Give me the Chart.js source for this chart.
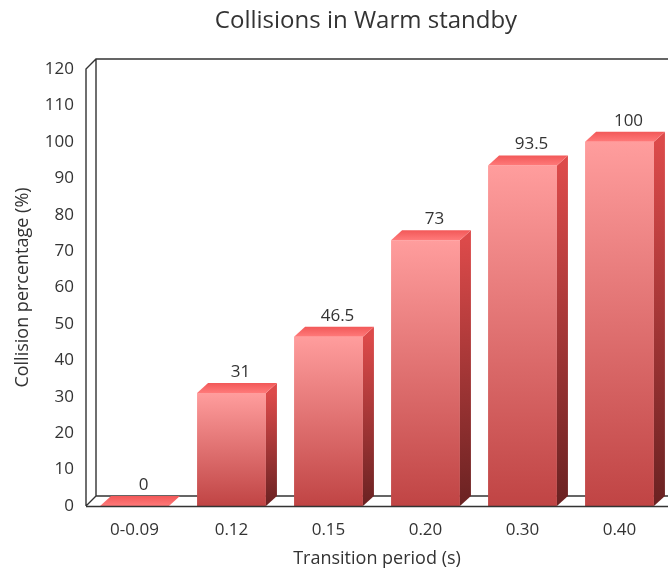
<!DOCTYPE html>
<html>
<head>
<meta charset="utf-8">
<title>Collisions in Warm standby</title>
<script src="https://cdn.jsdelivr.net/npm/chart.js@4/dist/chart.umd.min.js"></script>
<style>
  html, body { margin: 0; padding: 0; background: #fff; }
  #wrap { width: 668px; height: 568px; }
</style>
</head>
<body>
<div id="wrap"><canvas id="chart" width="668" height="568"></canvas></div>
<script>
// chart data
var categories = ['0-0.09', '0.12', '0.15', '0.20', '0.30', '0.40'];
var collisionPct = [0, 31, 46.5, 73, 93.5, 100];
var yTicks = { min: 0, max: 120, step: 10 };

var titleText = 'Collisions in Warm standby';
var xTitle = 'Transition period (s)';
var yTitle = 'Collision percentage (%)';

var FONT = "'Open Sans', sans-serif";
var TEXT = '#333333';
var DEPTH_X = 11, DEPTH_Y = 10;

// front face gradient, built per bar from the y scale
function frontFill(ctx) {
    var chart = ctx.chart;
    var y = chart.scales.y;
    if (!y || ctx.raw === undefined) return '#e07070';
    var top = y.getPixelForValue(ctx.raw), base = y.getPixelForValue(0);
    if (!isFinite(top) || !isFinite(base) || base - top < 1) return '#e07070';
    var g = chart.ctx.createLinearGradient(0, top, 0, base);
    g.addColorStop(0, '#ff9d9d');
    g.addColorStop(1, '#c04444');
    return g;
}

// 3d frame (back wall, left wall, floor) drawn behind the bars
var frame3d = {
    id: 'frame3d',
    beforeDatasetsDraw: function(chart) {
        var a = chart.chartArea, c = chart.ctx;
        c.save();
        c.strokeStyle = '#333';
        c.lineWidth = 1.4;
        c.beginPath();
        // left wall front edge + top diagonal + back top edge
        c.moveTo(a.left, a.bottom);
        c.lineTo(a.left, a.top);
        c.lineTo(a.left + 10, a.top - 10);
        c.lineTo(a.right + 10, a.top - 10);
        // back vertical of left wall
        c.moveTo(a.left + 10, a.top - 10);
        c.lineTo(a.left + 10, a.bottom - 10);
        c.lineTo(a.right + 10, a.bottom - 10);
        // floor diagonal
        c.moveTo(a.left, a.bottom);
        c.lineTo(a.left + 10, a.bottom - 10);
        c.stroke();
        c.restore();
    },
    afterDatasetsDraw: function(chart) {
        var a = chart.chartArea, c = chart.ctx;
        var meta = chart.getDatasetMeta(0);
        c.save();
        meta.data.forEach(function(bar, i) {
            var p = bar.getProps(['x', 'y', 'base', 'width'], true);
            var l = p.x - p.width / 2, r = p.x + p.width / 2;
            var top = p.y, base = p.base;
            // side face
            if (base - top > 0.5) {
                var gs = c.createLinearGradient(0, top, 0, base);
                gs.addColorStop(0, '#dc4a4a');
                gs.addColorStop(1, '#6a2222');
                c.fillStyle = gs;
                c.beginPath();
                c.moveTo(r, top);
                c.lineTo(r + DEPTH_X, top - DEPTH_Y);
                c.lineTo(r + DEPTH_X, base - DEPTH_Y);
                c.lineTo(r, base);
                c.closePath();
                c.fill();
            }
            // top face
            var gt = c.createLinearGradient(0, top - DEPTH_Y, 0, top);
            gt.addColorStop(0, '#f25858');
            gt.addColorStop(1, '#ff7a7a');
            c.fillStyle = gt;
            c.beginPath();
            c.moveTo(l, top);
            c.lineTo(l + DEPTH_X, top - DEPTH_Y);
            c.lineTo(r + DEPTH_X, top - DEPTH_Y);
            c.lineTo(r, top);
            c.closePath();
            c.fill();

            // value label
            c.fillStyle = TEXT;
            c.font = '17px ' + FONT;
            c.textAlign = 'center';
            c.textBaseline = 'middle';
            c.fillText(String(collisionPct[i]), p.x + 9, top - 21);
        });
        // front floor edge over the bar bottoms
        c.strokeStyle = '#333';
        c.lineWidth = 1.4;
        c.beginPath();
        c.moveTo(a.left, a.bottom + 0.5);
        c.lineTo(a.right, a.bottom + 0.5);
        c.stroke();

        // chart title
        c.fillStyle = TEXT;
        c.font = '24px ' + FONT;
        c.textAlign = 'center';
        c.textBaseline = 'middle';
        c.fillText(titleText, 366, 21);
        c.restore();
    }
};

new Chart(document.getElementById('chart'), {
    type: 'bar',
    data: {
        labels: categories,
        datasets: [{
            data: collisionPct,
            backgroundColor: frontFill,
            borderWidth: 0,
            barPercentage: 0.71,
            categoryPercentage: 1
        }]
    },
    options: {
        responsive: false,
        animation: false,
        layout: { padding: { top: 69, right: 0, left: 0, bottom: 0 } },
        plugins: {
            legend: { display: false },
            tooltip: { enabled: false }
        },
        scales: {
            x: {
                grid: { display: false },
                border: { display: false },
                ticks: { color: TEXT, font: { family: FONT, size: 17 }, padding: 6 },
                title: {
                    display: true, text: xTitle, color: TEXT,
                    font: { family: FONT, size: 18 },
                    padding: { top: 0, bottom: -2 }
                },
                afterFit: function(s) { s.height = 62; }
            },
            y: {
                min: yTicks.min,
                max: yTicks.max,
                grid: { display: false, drawTicks: false },
                border: { display: false },
                ticks: {
                    stepSize: yTicks.step, color: TEXT,
                    font: { family: FONT, size: 17 }, padding: 12
                },
                title: {
                    display: true, text: yTitle, color: TEXT,
                    font: { family: FONT, size: 18 },
                    padding: { top: 12, bottom: 0 }
                },
                afterFit: function(s) { s.width = 86; }
            }
        }
    },
    plugins: [frame3d]
});
</script>
</body>
</html>
